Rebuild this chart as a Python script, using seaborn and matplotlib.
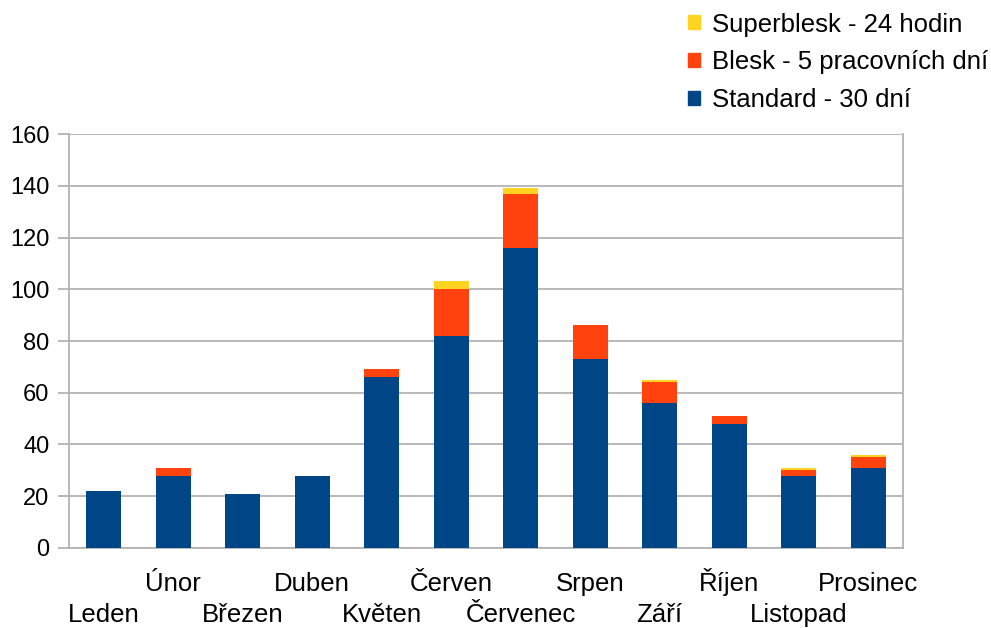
import matplotlib
matplotlib.use("Agg")
import matplotlib.pyplot as plt
import matplotlib.patches as mpatches
import matplotlib.transforms as mtransforms
import seaborn as sns
import pandas as pd
import numpy as np

# months and values
months = ['Leden', 'Únor', 'Březen', 'Duben', 'Květen', 'Červen',
          'Červenec', 'Srpen', 'Září', 'Říjen', 'Listopad', 'Prosinec']
standard = [22, 28, 21, 28, 66, 82, 116, 73, 56, 48, 28, 31]
blesk = [0, 3, 0, 0, 3, 18, 21, 13, 8, 3, 2, 4]
superblesk = [0, 0, 0, 0, 0, 3, 2, 0, 1, 0, 1, 1]

labels = ['Standard - 30 dní', 'Blesk - 5 pracovních dní', 'Superblesk - 24 hodin']
colors = ['#004586', '#ff420e', '#ffd320']

df = pd.DataFrame({'month': months, 'standard': standard,
                   'blesk': blesk, 'superblesk': superblesk})
df['lvl1'] = df['standard']
df['lvl2'] = df['lvl1'] + df['blesk']
df['lvl3'] = df['lvl2'] + df['superblesk']

sns.set_style('white')
plt.rcParams['font.family'] = ['Liberation Sans', 'DejaVu Sans']
plt.rcParams['text.color'] = 'black'
plt.rcParams['ytick.labelcolor'] = 'black'

fig = plt.figure(figsize=(9.91, 6.28), dpi=100)
ax = fig.add_axes([0.0696, 0.1274, 0.8415, 0.6592])

# stacked bars: draw cumulative totals, tallest first
for col, c in zip(['lvl3', 'lvl2', 'lvl1'], colors[::-1]):
    sns.barplot(data=df, x='month', y=col, color=c, width=0.5,
                saturation=1, ax=ax, edgecolor='none', linewidth=0, zorder=3)

grid_c = '#b3b3b3'
ax.set_ylim(0, 160)
ax.set_xlim(-0.5, 11.5)
ax.set_yticks(range(0, 161, 20))
ax.yaxis.grid(True, color=grid_c, linewidth=1.3, zorder=0)
ax.xaxis.grid(False)
ax.set_xlabel('')
ax.set_ylabel('')

ax.spines['top'].set_visible(False)
for side in ['left', 'bottom', 'right']:
    ax.spines[side].set_visible(True)
    ax.spines[side].set_color(grid_c)
    ax.spines[side].set_linewidth(1.3)

# staggered month labels, placed on a common baseline
ax.set_xticks(range(len(months)))
ax.set_xticklabels([])
trans = mtransforms.blended_transform_factory(ax.transData, ax.transAxes)
for i, m in enumerate(months):
    yb = -0.1787 if i % 2 == 0 else -0.1039
    ax.text(i, yb, m, transform=trans, ha='center', va='baseline',
            fontsize=18.5, color='black')

ax.set_xticks(np.arange(-0.5, 12, 1), minor=True)
ax.tick_params(axis='x', which='major', length=0)
ax.tick_params(axis='x', which='minor', length=7, width=1.3, color=grid_c, direction='out')
ax.tick_params(axis='y', which='major', length=8, width=1.3, color=grid_c,
               direction='out', pad=6, labelsize=17, labelcolor='black', left=True)

handles = [mpatches.Patch(color=c, label=l) for c, l in zip(colors, labels)][::-1]
fig.legend(handles=handles, loc='upper left', bbox_to_anchor=(0.694, 0.98),
           frameon=False, fontsize=18.5, handlelength=0.47, handleheight=0.47,
           handletextpad=0.47, labelspacing=0.53, borderaxespad=0, borderpad=0,
           labelcolor='black')

fig.savefig('out.png', dpi=100)
